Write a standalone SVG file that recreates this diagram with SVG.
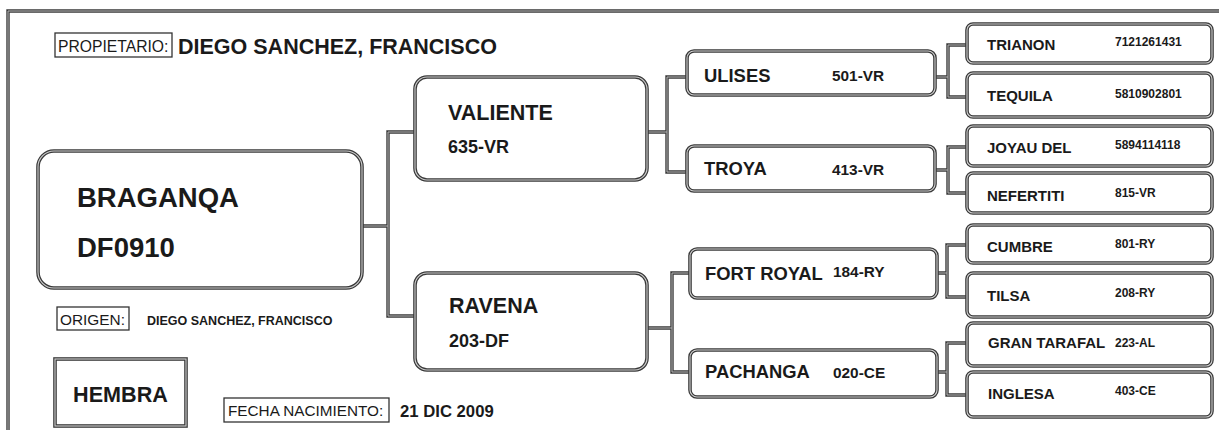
<svg xmlns="http://www.w3.org/2000/svg" width="1219" height="430" viewBox="0 0 1219 430">
<style>
text{font-family:"Liberation Sans",Arial,sans-serif;fill:#1a1a1a}
.b{font-weight:bold}
.o{fill:#fff;stroke:#3a3a3a;stroke-width:3.6}
.i{fill:none;stroke:#cfcfcf;stroke-width:1.1}
.lbl{fill:#fff;stroke:#333;stroke-width:1.3}
.c{fill:none;stroke:#3a3a3a;stroke-width:3.4}
.ci{fill:none;stroke:#b5b5b5;stroke-width:1}
.n1{font-size:27.5px}
.n2{font-size:21.5px}
.r2{font-size:18px}
.n3{font-size:18.4px}
.r3{font-size:15.4px}
.n4{font-size:15px}
.r4{font-size:12px}
</style>
<rect width="1219" height="430" fill="#fff"/>
<g id="frame">
<path class="c" d="M8,430 V11 H1219"/>
<path class="ci" d="M8,430 V11 H1219"/>
</g>
<g id="connectors">
<path class="c" d="M362,226 H388 M415,132 H388 V316 H415 M647,132 H667 M687,77 H667 V172 H687 M935,77 H948 M967,45 H948 V97 H967 M935,170 H948 M967,147 H948 V193 H967 M647,328 H672 M690,273 H672 V372 H690 M937,273 H947 M967,245 H947 V297 H967 M937,372 H947 M967,343 H947 V395 H967"/>
<path class="ci" d="M362,226 H388 M415,132 H388 V316 H415 M647,132 H667 M687,77 H667 V172 H687 M935,77 H948 M967,45 H948 V97 H967 M935,170 H948 M967,147 H948 V193 H967 M647,328 H672 M690,273 H672 V372 H690 M937,273 H947 M967,245 H947 V297 H967 M937,372 H947 M967,343 H947 V395 H967"/>
</g>
<g id="propietario">
<rect class="lbl" x="55" y="33" width="117" height="24"/>
<text x="58" y="52" font-size="15.7">PROPIETARIO:</text>
<text class="b" x="178" y="54" font-size="21.5">DIEGO SANCHEZ, FRANCISCO</text>
</g>
<g id="braganqa">
<rect class="o" x="38" y="151" width="324" height="137" rx="16"/>
<rect class="i" x="38" y="151" width="324" height="137" rx="16"/>
<text class="b n1" x="77" y="207">BRAGANQA</text>
<text class="b n1" x="77" y="257">DF0910</text>
</g>
<g id="origen">
<rect class="lbl" x="57" y="307" width="72" height="23"/>
<text x="60" y="325" font-size="15.4">ORIGEN:</text>
<text class="b" x="147" y="325" font-size="12.5">DIEGO SANCHEZ, FRANCISCO</text>
</g>
<g id="hembra">
<rect class="o" x="55" y="359" width="131" height="67"/>
<rect class="i" x="55" y="359" width="131" height="67"/>
<text class="b" x="120.5" y="402" font-size="21.6" text-anchor="middle">HEMBRA</text>
</g>
<g id="fecha">
<rect class="lbl" x="224" y="398" width="165" height="24"/>
<text x="228" y="416" font-size="15.3">FECHA NACIMIENTO:</text>
<text class="b" x="400" y="417" font-size="16.7">21 DIC 2009</text>
</g>
<g id="valiente">
<rect class="o" x="415" y="77" width="232" height="103" rx="12"/>
<rect class="i" x="415" y="77" width="232" height="103" rx="12"/>
<text class="b n2" x="448" y="120">VALIENTE</text>
<text class="b r2" x="448" y="153">635-VR</text>
</g>
<g id="ravena">
<rect class="o" x="415" y="273" width="232" height="97" rx="12"/>
<rect class="i" x="415" y="273" width="232" height="97" rx="12"/>
<text class="b n2" x="449" y="313">RAVENA</text>
<text class="b r2" x="449" y="347">203-DF</text>
</g>
<g id="ulises">
<rect class="o" x="687" y="51" width="248" height="44" rx="7"/>
<rect class="i" x="687" y="51" width="248" height="44" rx="7"/>
<text class="b n3" x="704" y="82">ULISES</text>
<text class="b r3" x="832" y="81">501-VR</text>
</g>
<g id="troya">
<rect class="o" x="687" y="146" width="248" height="45" rx="7"/>
<rect class="i" x="687" y="146" width="248" height="45" rx="7"/>
<text class="b n3" x="704" y="175">TROYA</text>
<text class="b r3" x="832" y="175">413-VR</text>
</g>
<g id="fortroyal">
<rect class="o" x="690" y="249" width="247" height="49" rx="7"/>
<rect class="i" x="690" y="249" width="247" height="49" rx="7"/>
<text class="b n3" x="705" y="280">FORT ROYAL</text>
<text class="b r3" x="833" y="277">184-RY</text>
</g>
<g id="pachanga">
<rect class="o" x="690" y="350" width="247" height="47" rx="7"/>
<rect class="i" x="690" y="350" width="247" height="47" rx="7"/>
<text class="b n3" x="705" y="378">PACHANGA</text>
<text class="b r3" x="833" y="378">020-CE</text>
</g>
<g id="trianon">
<rect class="o" x="967" y="24" width="245" height="39" rx="6"/>
<rect class="i" x="967" y="24" width="245" height="39" rx="6"/>
<text class="b n4" x="987" y="50">TRIANON</text>
<text class="b r4" x="1115" y="46">7121261431</text>
</g>
<g id="tequila">
<rect class="o" x="967" y="73" width="245" height="44" rx="6"/>
<rect class="i" x="967" y="73" width="245" height="44" rx="6"/>
<text class="b n4" x="987" y="101">TEQUILA</text>
<text class="b r4" x="1115" y="98">5810902801</text>
</g>
<g id="joyau">
<rect class="o" x="967" y="126" width="245" height="40" rx="6"/>
<rect class="i" x="967" y="126" width="245" height="40" rx="6"/>
<text class="b n4" x="987" y="153">JOYAU DEL</text>
<text class="b r4" x="1115" y="149">5894114118</text>
</g>
<g id="nefertiti">
<rect class="o" x="967" y="173" width="245" height="40" rx="6"/>
<rect class="i" x="967" y="173" width="245" height="40" rx="6"/>
<text class="b n4" x="987" y="201">NEFERTITI</text>
<text class="b r4" x="1115" y="197">815-VR</text>
</g>
<g id="cumbre">
<rect class="o" x="967" y="225" width="245" height="38" rx="6"/>
<rect class="i" x="967" y="225" width="245" height="38" rx="6"/>
<text class="b n4" x="987" y="252">CUMBRE</text>
<text class="b r4" x="1115" y="248">801-RY</text>
</g>
<g id="tilsa">
<rect class="o" x="967" y="273" width="245" height="44" rx="6"/>
<rect class="i" x="967" y="273" width="245" height="44" rx="6"/>
<text class="b n4" x="987" y="301">TILSA</text>
<text class="b r4" x="1115" y="297">208-RY</text>
</g>
<g id="grantarafal">
<rect class="o" x="967" y="323" width="245" height="43" rx="6"/>
<rect class="i" x="967" y="323" width="245" height="43" rx="6"/>
<text class="b n4" x="988" y="348">GRAN TARAFAL</text>
<text class="b r4" x="1115" y="347">223-AL</text>
</g>
<g id="inglesa">
<rect class="o" x="967" y="372" width="245" height="45" rx="6"/>
<rect class="i" x="967" y="372" width="245" height="45" rx="6"/>
<text class="b n4" x="988" y="399">INGLESA</text>
<text class="b r4" x="1115" y="395">403-CE</text>
</g>
</svg>
